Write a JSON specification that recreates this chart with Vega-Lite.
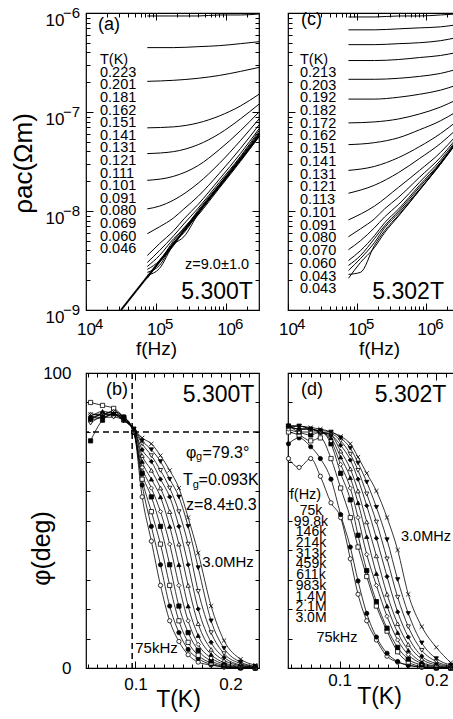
{
  "$schema": "https://vega.github.io/schema/vega-lite/v6.json",
  "background": "white",
  "padding": {"left": 9, "top": 5, "right": 0, "bottom": 0},
  "config": {
    "font": "Liberation Sans",
    "view": {"stroke": "black", "strokeWidth": 1.2},
    "axis": {"domain": false, "grid": false, "labelColor": "black", "labelFont": "Liberation Sans", "labelFontSize": 17, "tickColor": "black", "tickSize": -4, "tickWidth": 1, "titleColor": "black", "titleFont": "Liberation Sans", "titleFontWeight": "normal", "labelFlush": false, "labelOverlap": false},
    "text": {"color": "black", "font": "Liberation Sans"}
  },
  "datasets": {
    "rhoA": [
      {"c":1,"T":0.223,"f":75000,"rho":9.33e-7},{"c":1,"T":0.223,"f":178000,"rho":9.33e-7},{"c":1,"T":0.223,"f":400000,"rho":9.33e-7},{"c":1,"T":0.223,"f":800000,"rho":9.55e-7},{"c":1,"T":0.223,"f":1600000,"rho":9.55e-7},{"c":1,"T":0.223,"f":2950000,"rho":9.77e-7},
      {"c":2,"T":0.201,"f":75000,"rho":4.47e-7},{"c":2,"T":0.201,"f":178000,"rho":4.47e-7},{"c":2,"T":0.201,"f":400000,"rho":4.57e-7},{"c":2,"T":0.201,"f":800000,"rho":4.68e-7},{"c":2,"T":0.201,"f":1600000,"rho":4.90e-7},{"c":2,"T":0.201,"f":2950000,"rho":5.13e-7},
      {"c":3,"T":0.181,"f":75000,"rho":2.04e-7},{"c":3,"T":0.181,"f":178000,"rho":2.09e-7},{"c":3,"T":0.181,"f":400000,"rho":2.19e-7},{"c":3,"T":0.181,"f":800000,"rho":2.34e-7},{"c":3,"T":0.181,"f":1600000,"rho":2.57e-7},{"c":3,"T":0.181,"f":2950000,"rho":2.82e-7},
      {"c":4,"T":0.162,"f":75000,"rho":6.92e-8},{"c":4,"T":0.162,"f":178000,"rho":7.08e-8},{"c":4,"T":0.162,"f":400000,"rho":7.76e-8},{"c":4,"T":0.162,"f":800000,"rho":9.12e-8},{"c":4,"T":0.162,"f":1600000,"rho":1.15e-7},{"c":4,"T":0.162,"f":2950000,"rho":1.51e-7},
      {"c":5,"T":0.151,"f":75000,"rho":3.80e-8},{"c":5,"T":0.151,"f":178000,"rho":3.98e-8},{"c":5,"T":0.151,"f":400000,"rho":4.68e-8},{"c":5,"T":0.151,"f":800000,"rho":6.03e-8},{"c":5,"T":0.151,"f":1600000,"rho":8.51e-8},{"c":5,"T":0.151,"f":2950000,"rho":1.20e-7},
      {"c":6,"T":0.141,"f":75000,"rho":2.04e-8},{"c":6,"T":0.141,"f":178000,"rho":2.24e-8},{"c":6,"T":0.141,"f":400000,"rho":2.88e-8},{"c":6,"T":0.141,"f":800000,"rho":4.17e-8},{"c":6,"T":0.141,"f":1600000,"rho":6.46e-8},{"c":6,"T":0.141,"f":2950000,"rho":1.00e-7},
      {"c":7,"T":0.131,"f":75000,"rho":1.05e-8},{"c":7,"T":0.131,"f":112000,"rho":1.12e-8},{"c":7,"T":0.131,"f":178000,"rho":1.29e-8},{"c":7,"T":0.131,"f":400000,"rho":1.91e-8},{"c":7,"T":0.131,"f":800000,"rho":3.02e-8},{"c":7,"T":0.131,"f":1600000,"rho":5.13e-8},{"c":7,"T":0.131,"f":2950000,"rho":8.51e-8},
      {"c":8,"T":0.121,"f":75000,"rho":5.89e-9},{"c":8,"T":0.121,"f":112000,"rho":6.92e-9},{"c":8,"T":0.121,"f":178000,"rho":8.51e-9},{"c":8,"T":0.121,"f":250000,"rho":1.05e-8},{"c":8,"T":0.121,"f":400000,"rho":1.41e-8},{"c":8,"T":0.121,"f":800000,"rho":2.40e-8},{"c":8,"T":0.121,"f":1600000,"rho":4.27e-8},{"c":8,"T":0.121,"f":2950000,"rho":7.41e-8},
      {"c":9,"T":0.111,"f":75000,"rho":3.55e-9},{"c":9,"T":0.111,"f":112000,"rho":4.68e-9},{"c":9,"T":0.111,"f":178000,"rho":6.31e-9},{"c":9,"T":0.111,"f":250000,"rho":8.32e-9},{"c":9,"T":0.111,"f":400000,"rho":1.17e-8},{"c":9,"T":0.111,"f":800000,"rho":2.09e-8},{"c":9,"T":0.111,"f":1600000,"rho":3.80e-8},{"c":9,"T":0.111,"f":2950000,"rho":6.76e-8},
      {"c":10,"T":0.101,"f":75000,"rho":3.02e-9},{"c":10,"T":0.101,"f":112000,"rho":3.98e-9},{"c":10,"T":0.101,"f":178000,"rho":5.62e-9},{"c":10,"T":0.101,"f":250000,"rho":7.41e-9},{"c":10,"T":0.101,"f":400000,"rho":1.07e-8},{"c":10,"T":0.101,"f":800000,"rho":1.95e-8},{"c":10,"T":0.101,"f":1600000,"rho":3.55e-8},{"c":10,"T":0.101,"f":2950000,"rho":6.46e-8},
      {"c":11,"T":0.091,"f":75000,"rho":2.75e-9},{"c":11,"T":0.091,"f":112000,"rho":3.55e-9},{"c":11,"T":0.091,"f":178000,"rho":5.25e-9},{"c":11,"T":0.091,"f":250000,"rho":6.61e-9},{"c":11,"T":0.091,"f":400000,"rho":1.02e-8},{"c":11,"T":0.091,"f":800000,"rho":1.86e-8},{"c":11,"T":0.091,"f":1600000,"rho":3.47e-8},{"c":11,"T":0.091,"f":2950000,"rho":6.17e-8},
      {"c":12,"T":0.080,"f":75000,"rho":2.57e-9},{"c":12,"T":0.080,"f":112000,"rho":3.16e-9},{"c":12,"T":0.080,"f":178000,"rho":5.01e-9},{"c":12,"T":0.080,"f":250000,"rho":6.76e-9},{"c":12,"T":0.080,"f":400000,"rho":9.77e-9},{"c":12,"T":0.080,"f":800000,"rho":1.82e-8},{"c":12,"T":0.080,"f":1600000,"rho":3.31e-8},{"c":12,"T":0.080,"f":2950000,"rho":6.03e-8},
      {"c":13,"T":0.069,"f":75000,"rho":2.40e-9},{"c":13,"T":0.069,"f":112000,"rho":2.82e-9},{"c":13,"T":0.069,"f":178000,"rho":4.79e-9},{"c":13,"T":0.069,"f":250000,"rho":6.03e-9},{"c":13,"T":0.069,"f":400000,"rho":9.55e-9},{"c":13,"T":0.069,"f":800000,"rho":1.78e-8},{"c":13,"T":0.069,"f":1600000,"rho":3.31e-8},{"c":13,"T":0.069,"f":2950000,"rho":5.89e-8},
      {"c":14,"T":0.060,"f":75000,"rho":2.24e-9},{"c":14,"T":0.060,"f":112000,"rho":2.63e-9},{"c":14,"T":0.060,"f":178000,"rho":4.57e-9},{"c":14,"T":0.060,"f":250000,"rho":5.50e-9},{"c":14,"T":0.060,"f":400000,"rho":9.33e-9},{"c":14,"T":0.060,"f":800000,"rho":1.74e-8},{"c":14,"T":0.060,"f":1600000,"rho":3.24e-8},{"c":14,"T":0.060,"f":2950000,"rho":5.75e-8},
      {"c":15,"T":0.046,"f":75000,"rho":2.09e-9},{"c":15,"T":0.046,"f":112000,"rho":3.02e-9},{"c":15,"T":0.046,"f":178000,"rho":4.47e-9},{"c":15,"T":0.046,"f":250000,"rho":6.31e-9},{"c":15,"T":0.046,"f":400000,"rho":9.12e-9},{"c":15,"T":0.046,"f":800000,"rho":1.70e-8},{"c":15,"T":0.046,"f":1600000,"rho":3.16e-8},{"c":15,"T":0.046,"f":2950000,"rho":5.62e-8}
    ],
    "fitA": [{"f":31600,"rho":1e-9},{"f":2950000,"rho":5.75e-8}],
    "rhoC": [
      {"c":1,"T":0.213,"f":75000,"rho":9.12e-7},{"c":1,"T":0.213,"f":178000,"rho":9.12e-7},{"c":1,"T":0.213,"f":400000,"rho":9.33e-7},{"c":1,"T":0.213,"f":800000,"rho":9.33e-7},{"c":1,"T":0.213,"f":1600000,"rho":9.55e-7},{"c":1,"T":0.213,"f":2700000,"rho":9.77e-7},
      {"c":2,"T":0.203,"f":75000,"rho":6.76e-7},{"c":2,"T":0.203,"f":178000,"rho":6.76e-7},{"c":2,"T":0.203,"f":400000,"rho":6.92e-7},{"c":2,"T":0.203,"f":800000,"rho":7.08e-7},{"c":2,"T":0.203,"f":1600000,"rho":7.24e-7},{"c":2,"T":0.203,"f":2700000,"rho":7.59e-7},
      {"c":3,"T":0.192,"f":75000,"rho":4.79e-7},{"c":3,"T":0.192,"f":178000,"rho":4.79e-7},{"c":3,"T":0.192,"f":400000,"rho":4.90e-7},{"c":3,"T":0.192,"f":800000,"rho":5.01e-7},{"c":3,"T":0.192,"f":1600000,"rho":5.25e-7},{"c":3,"T":0.192,"f":2700000,"rho":5.62e-7},
      {"c":4,"T":0.182,"f":75000,"rho":3.31e-7},{"c":4,"T":0.182,"f":178000,"rho":3.31e-7},{"c":4,"T":0.182,"f":400000,"rho":3.39e-7},{"c":4,"T":0.182,"f":800000,"rho":3.55e-7},{"c":4,"T":0.182,"f":1600000,"rho":3.72e-7},{"c":4,"T":0.182,"f":2700000,"rho":3.98e-7},
      {"c":5,"T":0.172,"f":75000,"rho":2.14e-7},{"c":5,"T":0.172,"f":178000,"rho":2.14e-7},{"c":5,"T":0.172,"f":400000,"rho":2.19e-7},{"c":5,"T":0.172,"f":800000,"rho":2.29e-7},{"c":5,"T":0.172,"f":1600000,"rho":2.45e-7},{"c":5,"T":0.172,"f":2700000,"rho":2.69e-7},
      {"c":6,"T":0.162,"f":75000,"rho":1.35e-7},{"c":6,"T":0.162,"f":178000,"rho":1.35e-7},{"c":6,"T":0.162,"f":400000,"rho":1.41e-7},{"c":6,"T":0.162,"f":800000,"rho":1.51e-7},{"c":6,"T":0.162,"f":1600000,"rho":1.66e-7},{"c":6,"T":0.162,"f":2700000,"rho":1.86e-7},
      {"c":7,"T":0.151,"f":75000,"rho":7.76e-8},{"c":7,"T":0.151,"f":178000,"rho":7.94e-8},{"c":7,"T":0.151,"f":400000,"rho":8.51e-8},{"c":7,"T":0.151,"f":800000,"rho":9.55e-8},{"c":7,"T":0.151,"f":1600000,"rho":1.12e-7},{"c":7,"T":0.151,"f":2700000,"rho":1.32e-7},
      {"c":8,"T":0.141,"f":75000,"rho":4.68e-8},{"c":8,"T":0.141,"f":178000,"rho":4.90e-8},{"c":8,"T":0.141,"f":400000,"rho":5.50e-8},{"c":8,"T":0.141,"f":800000,"rho":6.61e-8},{"c":8,"T":0.141,"f":1600000,"rho":8.13e-8},{"c":8,"T":0.141,"f":2700000,"rho":1.00e-7},
      {"c":9,"T":0.131,"f":75000,"rho":2.57e-8},{"c":9,"T":0.131,"f":178000,"rho":2.82e-8},{"c":9,"T":0.131,"f":400000,"rho":3.47e-8},{"c":9,"T":0.131,"f":800000,"rho":4.47e-8},{"c":9,"T":0.131,"f":1600000,"rho":6.03e-8},{"c":9,"T":0.131,"f":2700000,"rho":7.94e-8},
      {"c":10,"T":0.121,"f":75000,"rho":1.51e-8},{"c":10,"T":0.121,"f":178000,"rho":1.82e-8},{"c":10,"T":0.121,"f":400000,"rho":2.45e-8},{"c":10,"T":0.121,"f":800000,"rho":3.39e-8},{"c":10,"T":0.121,"f":1600000,"rho":4.79e-8},{"c":10,"T":0.121,"f":2700000,"rho":6.61e-8},
      {"c":11,"T":0.113,"f":75000,"rho":8.13e-9},{"c":11,"T":0.113,"f":178000,"rho":1.12e-8},{"c":11,"T":0.113,"f":400000,"rho":1.74e-8},{"c":11,"T":0.113,"f":800000,"rho":2.57e-8},{"c":11,"T":0.113,"f":1600000,"rho":3.89e-8},{"c":11,"T":0.113,"f":2700000,"rho":5.75e-8},
      {"c":12,"T":0.101,"f":75000,"rho":5.50e-9},{"c":12,"T":0.101,"f":112000,"rho":6.61e-9},{"c":12,"T":0.101,"f":178000,"rho":8.32e-9},{"c":12,"T":0.101,"f":250000,"rho":1.05e-8},{"c":12,"T":0.101,"f":400000,"rho":1.38e-8},{"c":12,"T":0.101,"f":800000,"rho":2.19e-8},{"c":12,"T":0.101,"f":1600000,"rho":3.47e-8},{"c":12,"T":0.101,"f":2700000,"rho":5.37e-8},
      {"c":13,"T":0.091,"f":75000,"rho":4.07e-9},{"c":13,"T":0.091,"f":112000,"rho":5.01e-9},{"c":13,"T":0.091,"f":178000,"rho":6.76e-9},{"c":13,"T":0.091,"f":250000,"rho":8.71e-9},{"c":13,"T":0.091,"f":400000,"rho":1.17e-8},{"c":13,"T":0.091,"f":800000,"rho":1.95e-8},{"c":13,"T":0.091,"f":1600000,"rho":3.24e-8},{"c":13,"T":0.091,"f":2700000,"rho":5.13e-8},
      {"c":14,"T":0.080,"f":75000,"rho":3.16e-9},{"c":14,"T":0.080,"f":112000,"rho":3.98e-9},{"c":14,"T":0.080,"f":178000,"rho":5.62e-9},{"c":14,"T":0.080,"f":250000,"rho":7.59e-9},{"c":14,"T":0.080,"f":400000,"rho":1.05e-8},{"c":14,"T":0.080,"f":800000,"rho":1.82e-8},{"c":14,"T":0.080,"f":1600000,"rho":3.09e-8},{"c":14,"T":0.080,"f":2700000,"rho":5.01e-8},
      {"c":15,"T":0.070,"f":75000,"rho":2.82e-9},{"c":15,"T":0.070,"f":112000,"rho":3.55e-9},{"c":15,"T":0.070,"f":178000,"rho":5.25e-9},{"c":15,"T":0.070,"f":250000,"rho":7.08e-9},{"c":15,"T":0.070,"f":400000,"rho":1.00e-8},{"c":15,"T":0.070,"f":800000,"rho":1.74e-8},{"c":15,"T":0.070,"f":1600000,"rho":3.02e-8},{"c":15,"T":0.070,"f":2700000,"rho":4.90e-8},
      {"c":16,"T":0.060,"f":75000,"rho":2.51e-9},{"c":16,"T":0.060,"f":112000,"rho":3.31e-9},{"c":16,"T":0.060,"f":178000,"rho":4.79e-9},{"c":16,"T":0.060,"f":250000,"rho":6.76e-9},{"c":16,"T":0.060,"f":400000,"rho":9.55e-9},{"c":16,"T":0.060,"f":800000,"rho":1.66e-8},{"c":16,"T":0.060,"f":1600000,"rho":2.95e-8},{"c":16,"T":0.060,"f":2700000,"rho":4.90e-8},
      {"c":17,"T":0.043,"f":75000,"rho":2.29e-9},{"c":17,"T":0.043,"f":112000,"rho":2.40e-9},{"c":17,"T":0.043,"f":178000,"rho":4.47e-9},{"c":17,"T":0.043,"f":250000,"rho":6.31e-9},{"c":17,"T":0.043,"f":400000,"rho":9.12e-9},{"c":17,"T":0.043,"f":800000,"rho":1.62e-8},{"c":17,"T":0.043,"f":1600000,"rho":2.95e-8},{"c":17,"T":0.043,"f":2700000,"rho":4.79e-8},
      {"c":18,"T":0.043,"f":75000,"rho":2.09e-9},{"c":18,"T":0.043,"f":112000,"rho":3.02e-9},{"c":18,"T":0.043,"f":178000,"rho":4.27e-9},{"c":18,"T":0.043,"f":250000,"rho":6.03e-9},{"c":18,"T":0.043,"f":400000,"rho":8.91e-9},{"c":18,"T":0.043,"f":800000,"rho":1.62e-8},{"c":18,"T":0.043,"f":1600000,"rho":3.02e-8},{"c":18,"T":0.043,"f":2700000,"rho":4.79e-8}
    ],
    "phiB": [
      {"fr":"75k","T":0.0527,"phi":85},{"fr":"75k","T":0.0653,"phi":86},{"fr":"75k","T":0.077,"phi":87},{"fr":"75k","T":0.0876,"phi":85},{"fr":"75k","T":0.0983,"phi":80},{"fr":"75k","T":0.107,"phi":58},{"fr":"75k","T":0.1167,"phi":43},{"fr":"75k","T":0.1263,"phi":28},{"fr":"75k","T":0.136,"phi":16},{"fr":"75k","T":0.1457,"phi":9},{"fr":"75k","T":0.1554,"phi":4.5},{"fr":"75k","T":0.166,"phi":2},{"fr":"75k","T":0.1796,"phi":1},{"fr":"75k","T":0.1932,"phi":0.3},{"fr":"75k","T":0.2106,"phi":0},{"fr":"75k","T":0.2261,"phi":0},
      {"fr":"99.8k","T":0.0527,"phi":84},{"fr":"99.8k","T":0.0653,"phi":86},{"fr":"99.8k","T":0.077,"phi":86},{"fr":"99.8k","T":0.0876,"phi":85},{"fr":"99.8k","T":0.0983,"phi":80},{"fr":"99.8k","T":0.107,"phi":62},{"fr":"99.8k","T":0.1167,"phi":48},{"fr":"99.8k","T":0.1263,"phi":35},{"fr":"99.8k","T":0.136,"phi":21},{"fr":"99.8k","T":0.1457,"phi":12},{"fr":"99.8k","T":0.1554,"phi":6.3},{"fr":"99.8k","T":0.166,"phi":3.2},{"fr":"99.8k","T":0.1796,"phi":1.2},{"fr":"99.8k","T":0.1932,"phi":0.4},{"fr":"99.8k","T":0.2106,"phi":0},{"fr":"99.8k","T":0.2261,"phi":0},
      {"fr":"146k","T":0.0527,"phi":90},{"fr":"146k","T":0.0653,"phi":89},{"fr":"146k","T":0.077,"phi":88},{"fr":"146k","T":0.0876,"phi":85},{"fr":"146k","T":0.0983,"phi":80},{"fr":"146k","T":0.107,"phi":64},{"fr":"146k","T":0.1167,"phi":53},{"fr":"146k","T":0.1263,"phi":42},{"fr":"146k","T":0.136,"phi":28},{"fr":"146k","T":0.1457,"phi":16},{"fr":"146k","T":0.1554,"phi":8.7},{"fr":"146k","T":0.166,"phi":4.3},{"fr":"146k","T":0.1796,"phi":1.7},{"fr":"146k","T":0.1932,"phi":0.6},{"fr":"146k","T":0.2106,"phi":0.1},{"fr":"146k","T":0.2261,"phi":0},
      {"fr":"214k","T":0.0527,"phi":77},{"fr":"214k","T":0.0653,"phi":84},{"fr":"214k","T":0.077,"phi":86},{"fr":"214k","T":0.0876,"phi":85},{"fr":"214k","T":0.0983,"phi":80},{"fr":"214k","T":0.107,"phi":66},{"fr":"214k","T":0.1167,"phi":58},{"fr":"214k","T":0.1263,"phi":48},{"fr":"214k","T":0.136,"phi":35},{"fr":"214k","T":0.1457,"phi":21},{"fr":"214k","T":0.1554,"phi":12},{"fr":"214k","T":0.166,"phi":6},{"fr":"214k","T":0.1796,"phi":2.4},{"fr":"214k","T":0.1932,"phi":0.9},{"fr":"214k","T":0.2106,"phi":0.2},{"fr":"214k","T":0.2261,"phi":0},
      {"fr":"313k","T":0.0527,"phi":86},{"fr":"313k","T":0.0653,"phi":86},{"fr":"313k","T":0.077,"phi":87},{"fr":"313k","T":0.0876,"phi":84},{"fr":"313k","T":0.0983,"phi":80},{"fr":"313k","T":0.107,"phi":68},{"fr":"313k","T":0.1167,"phi":61},{"fr":"313k","T":0.1263,"phi":53},{"fr":"313k","T":0.136,"phi":42},{"fr":"313k","T":0.1457,"phi":28},{"fr":"313k","T":0.1554,"phi":16},{"fr":"313k","T":0.166,"phi":8},{"fr":"313k","T":0.1796,"phi":3.4},{"fr":"313k","T":0.1932,"phi":1.3},{"fr":"313k","T":0.2106,"phi":0.3},{"fr":"313k","T":0.2261,"phi":0},
      {"fr":"459k","T":0.0527,"phi":85},{"fr":"459k","T":0.0653,"phi":87},{"fr":"459k","T":0.077,"phi":86},{"fr":"459k","T":0.0876,"phi":84},{"fr":"459k","T":0.0983,"phi":81},{"fr":"459k","T":0.107,"phi":70},{"fr":"459k","T":0.1167,"phi":64},{"fr":"459k","T":0.1263,"phi":58},{"fr":"459k","T":0.136,"phi":48},{"fr":"459k","T":0.1457,"phi":35},{"fr":"459k","T":0.1554,"phi":21},{"fr":"459k","T":0.166,"phi":11},{"fr":"459k","T":0.1796,"phi":4.6},{"fr":"459k","T":0.1932,"phi":1.8},{"fr":"459k","T":0.2106,"phi":0.5},{"fr":"459k","T":0.2261,"phi":0.1},
      {"fr":"611k","T":0.0527,"phi":84},{"fr":"611k","T":0.0653,"phi":86},{"fr":"611k","T":0.077,"phi":86},{"fr":"611k","T":0.0876,"phi":84},{"fr":"611k","T":0.0983,"phi":81},{"fr":"611k","T":0.107,"phi":72},{"fr":"611k","T":0.1167,"phi":67},{"fr":"611k","T":0.1263,"phi":61},{"fr":"611k","T":0.136,"phi":53},{"fr":"611k","T":0.1457,"phi":42},{"fr":"611k","T":0.1554,"phi":28},{"fr":"611k","T":0.166,"phi":15},{"fr":"611k","T":0.1796,"phi":6.3},{"fr":"611k","T":0.1932,"phi":2.6},{"fr":"611k","T":0.2106,"phi":0.8},{"fr":"611k","T":0.2261,"phi":0.2},
      {"fr":"983k","T":0.0527,"phi":85},{"fr":"983k","T":0.0653,"phi":85},{"fr":"983k","T":0.077,"phi":86},{"fr":"983k","T":0.0876,"phi":84},{"fr":"983k","T":0.0983,"phi":81},{"fr":"983k","T":0.107,"phi":74},{"fr":"983k","T":0.1167,"phi":70},{"fr":"983k","T":0.1263,"phi":64},{"fr":"983k","T":0.136,"phi":58},{"fr":"983k","T":0.1457,"phi":48},{"fr":"983k","T":0.1554,"phi":35},{"fr":"983k","T":0.166,"phi":20},{"fr":"983k","T":0.1796,"phi":8.7},{"fr":"983k","T":0.1932,"phi":3.6},{"fr":"983k","T":0.2106,"phi":1},{"fr":"983k","T":0.2261,"phi":0.3},
      {"fr":"1.4M","T":0.0527,"phi":83},{"fr":"1.4M","T":0.0653,"phi":85},{"fr":"1.4M","T":0.077,"phi":85},{"fr":"1.4M","T":0.0876,"phi":84},{"fr":"1.4M","T":0.0983,"phi":81},{"fr":"1.4M","T":0.107,"phi":76},{"fr":"1.4M","T":0.1167,"phi":72},{"fr":"1.4M","T":0.1263,"phi":67},{"fr":"1.4M","T":0.136,"phi":61},{"fr":"1.4M","T":0.1457,"phi":53},{"fr":"1.4M","T":0.1554,"phi":42},{"fr":"1.4M","T":0.166,"phi":26},{"fr":"1.4M","T":0.1796,"phi":12},{"fr":"1.4M","T":0.1932,"phi":4.9},{"fr":"1.4M","T":0.2106,"phi":1.5},{"fr":"1.4M","T":0.2261,"phi":0.4},
      {"fr":"2.1M","T":0.0527,"phi":84},{"fr":"2.1M","T":0.0653,"phi":85},{"fr":"2.1M","T":0.077,"phi":86},{"fr":"2.1M","T":0.0876,"phi":84},{"fr":"2.1M","T":0.0983,"phi":81},{"fr":"2.1M","T":0.107,"phi":77},{"fr":"2.1M","T":0.1167,"phi":74},{"fr":"2.1M","T":0.1263,"phi":70},{"fr":"2.1M","T":0.136,"phi":64},{"fr":"2.1M","T":0.1457,"phi":58},{"fr":"2.1M","T":0.1554,"phi":48},{"fr":"2.1M","T":0.166,"phi":34},{"fr":"2.1M","T":0.1796,"phi":16},{"fr":"2.1M","T":0.1932,"phi":6.7},{"fr":"2.1M","T":0.2106,"phi":2},{"fr":"2.1M","T":0.2261,"phi":0.6},
      {"fr":"3.0M","T":0.0527,"phi":86},{"fr":"3.0M","T":0.0653,"phi":86},{"fr":"3.0M","T":0.077,"phi":87},{"fr":"3.0M","T":0.0876,"phi":85},{"fr":"3.0M","T":0.0983,"phi":81},{"fr":"3.0M","T":0.107,"phi":78},{"fr":"3.0M","T":0.1167,"phi":76},{"fr":"3.0M","T":0.1263,"phi":72},{"fr":"3.0M","T":0.136,"phi":67},{"fr":"3.0M","T":0.1457,"phi":61},{"fr":"3.0M","T":0.1554,"phi":51},{"fr":"3.0M","T":0.166,"phi":39},{"fr":"3.0M","T":0.1796,"phi":21},{"fr":"3.0M","T":0.1932,"phi":9.3},{"fr":"3.0M","T":0.2106,"phi":3},{"fr":"3.0M","T":0.2261,"phi":1}
    ],
    "phiD": [
      {"fr":"75k","T":0.047,"phi":71},{"fr":"75k","T":0.058,"phi":68},{"fr":"75k","T":0.07,"phi":71},{"fr":"75k","T":0.08,"phi":65},{"fr":"75k","T":0.091,"phi":56},{"fr":"75k","T":0.101,"phi":51},{"fr":"75k","T":0.111,"phi":37},{"fr":"75k","T":0.119,"phi":25},{"fr":"75k","T":0.128,"phi":16},{"fr":"75k","T":0.138,"phi":9.5},{"fr":"75k","T":0.149,"phi":4},{"fr":"75k","T":0.16,"phi":2},{"fr":"75k","T":0.171,"phi":1},{"fr":"75k","T":0.185,"phi":0.3},{"fr":"75k","T":0.2,"phi":0},{"fr":"75k","T":0.215,"phi":0},
      {"fr":"99.8k","T":0.047,"phi":76},{"fr":"99.8k","T":0.058,"phi":78},{"fr":"99.8k","T":0.07,"phi":75},{"fr":"99.8k","T":0.08,"phi":71},{"fr":"99.8k","T":0.091,"phi":64},{"fr":"99.8k","T":0.101,"phi":52},{"fr":"99.8k","T":0.111,"phi":41},{"fr":"99.8k","T":0.119,"phi":29.5},{"fr":"99.8k","T":0.128,"phi":18.5},{"fr":"99.8k","T":0.138,"phi":10.5},{"fr":"99.8k","T":0.149,"phi":5},{"fr":"99.8k","T":0.16,"phi":2.2},{"fr":"99.8k","T":0.171,"phi":0.9},{"fr":"99.8k","T":0.185,"phi":0.3},{"fr":"99.8k","T":0.2,"phi":0},{"fr":"99.8k","T":0.215,"phi":0},
      {"fr":"146k","T":0.047,"phi":80},{"fr":"146k","T":0.058,"phi":79},{"fr":"146k","T":0.07,"phi":77},{"fr":"146k","T":0.08,"phi":78},{"fr":"146k","T":0.091,"phi":71},{"fr":"146k","T":0.101,"phi":61},{"fr":"146k","T":0.111,"phi":51},{"fr":"146k","T":0.119,"phi":41},{"fr":"146k","T":0.128,"phi":31},{"fr":"146k","T":0.138,"phi":21},{"fr":"146k","T":0.149,"phi":12.5},{"fr":"146k","T":0.16,"phi":5.5},{"fr":"146k","T":0.171,"phi":2},{"fr":"146k","T":0.185,"phi":0.5},{"fr":"146k","T":0.2,"phi":0},{"fr":"146k","T":0.215,"phi":0},
      {"fr":"214k","T":0.047,"phi":82},{"fr":"214k","T":0.058,"phi":80},{"fr":"214k","T":0.07,"phi":79},{"fr":"214k","T":0.08,"phi":80},{"fr":"214k","T":0.091,"phi":76},{"fr":"214k","T":0.101,"phi":66},{"fr":"214k","T":0.111,"phi":57},{"fr":"214k","T":0.119,"phi":45},{"fr":"214k","T":0.128,"phi":33},{"fr":"214k","T":0.138,"phi":22.5},{"fr":"214k","T":0.149,"phi":13.5},{"fr":"214k","T":0.16,"phi":7},{"fr":"214k","T":0.171,"phi":3},{"fr":"214k","T":0.185,"phi":1},{"fr":"214k","T":0.2,"phi":0.2},{"fr":"214k","T":0.215,"phi":0},
      {"fr":"313k","T":0.047,"phi":81},{"fr":"313k","T":0.058,"phi":80},{"fr":"313k","T":0.07,"phi":80},{"fr":"313k","T":0.08,"phi":80},{"fr":"313k","T":0.091,"phi":77},{"fr":"313k","T":0.101,"phi":69},{"fr":"313k","T":0.111,"phi":61},{"fr":"313k","T":0.119,"phi":51},{"fr":"313k","T":0.128,"phi":38.5},{"fr":"313k","T":0.138,"phi":28},{"fr":"313k","T":0.149,"phi":17.5},{"fr":"313k","T":0.16,"phi":9.5},{"fr":"313k","T":0.171,"phi":4.5},{"fr":"313k","T":0.185,"phi":1.5},{"fr":"313k","T":0.2,"phi":0.4},{"fr":"313k","T":0.215,"phi":0},
      {"fr":"459k","T":0.047,"phi":82},{"fr":"459k","T":0.058,"phi":81},{"fr":"459k","T":0.07,"phi":81},{"fr":"459k","T":0.08,"phi":80},{"fr":"459k","T":0.091,"phi":78},{"fr":"459k","T":0.101,"phi":71.5},{"fr":"459k","T":0.111,"phi":64.5},{"fr":"459k","T":0.119,"phi":56},{"fr":"459k","T":0.128,"phi":44.5},{"fr":"459k","T":0.138,"phi":32},{"fr":"459k","T":0.149,"phi":21},{"fr":"459k","T":0.16,"phi":12},{"fr":"459k","T":0.171,"phi":6},{"fr":"459k","T":0.185,"phi":2},{"fr":"459k","T":0.2,"phi":0.6},{"fr":"459k","T":0.215,"phi":0.1},
      {"fr":"611k","T":0.047,"phi":82},{"fr":"611k","T":0.058,"phi":81},{"fr":"611k","T":0.07,"phi":81},{"fr":"611k","T":0.08,"phi":80},{"fr":"611k","T":0.091,"phi":79},{"fr":"611k","T":0.101,"phi":73.5},{"fr":"611k","T":0.111,"phi":67.5},{"fr":"611k","T":0.119,"phi":60},{"fr":"611k","T":0.128,"phi":49.5},{"fr":"611k","T":0.138,"phi":38},{"fr":"611k","T":0.149,"phi":25},{"fr":"611k","T":0.16,"phi":15},{"fr":"611k","T":0.171,"phi":8},{"fr":"611k","T":0.185,"phi":3},{"fr":"611k","T":0.2,"phi":1},{"fr":"611k","T":0.215,"phi":0.2},
      {"fr":"983k","T":0.047,"phi":82},{"fr":"983k","T":0.058,"phi":81},{"fr":"983k","T":0.07,"phi":81},{"fr":"983k","T":0.08,"phi":80},{"fr":"983k","T":0.091,"phi":79},{"fr":"983k","T":0.101,"phi":75.5},{"fr":"983k","T":0.111,"phi":70.5},{"fr":"983k","T":0.119,"phi":64},{"fr":"983k","T":0.128,"phi":55},{"fr":"983k","T":0.138,"phi":44},{"fr":"983k","T":0.149,"phi":31},{"fr":"983k","T":0.16,"phi":19},{"fr":"983k","T":0.171,"phi":10.5},{"fr":"983k","T":0.185,"phi":4},{"fr":"983k","T":0.2,"phi":1.5},{"fr":"983k","T":0.215,"phi":0.4},
      {"fr":"1.4M","T":0.047,"phi":82},{"fr":"1.4M","T":0.058,"phi":82},{"fr":"1.4M","T":0.07,"phi":81},{"fr":"1.4M","T":0.08,"phi":80},{"fr":"1.4M","T":0.091,"phi":79.5},{"fr":"1.4M","T":0.101,"phi":77},{"fr":"1.4M","T":0.111,"phi":72.5},{"fr":"1.4M","T":0.119,"phi":67},{"fr":"1.4M","T":0.128,"phi":59},{"fr":"1.4M","T":0.138,"phi":49.5},{"fr":"1.4M","T":0.149,"phi":37},{"fr":"1.4M","T":0.16,"phi":24},{"fr":"1.4M","T":0.171,"phi":14},{"fr":"1.4M","T":0.185,"phi":6},{"fr":"1.4M","T":0.2,"phi":2.2},{"fr":"1.4M","T":0.215,"phi":0.6},
      {"fr":"2.1M","T":0.047,"phi":82},{"fr":"2.1M","T":0.058,"phi":82},{"fr":"2.1M","T":0.07,"phi":81},{"fr":"2.1M","T":0.08,"phi":80.5},{"fr":"2.1M","T":0.091,"phi":80},{"fr":"2.1M","T":0.101,"phi":78},{"fr":"2.1M","T":0.111,"phi":74.5},{"fr":"2.1M","T":0.119,"phi":69.5},{"fr":"2.1M","T":0.128,"phi":63},{"fr":"2.1M","T":0.138,"phi":54.5},{"fr":"2.1M","T":0.149,"phi":43.5},{"fr":"2.1M","T":0.16,"phi":30},{"fr":"2.1M","T":0.171,"phi":18.5},{"fr":"2.1M","T":0.185,"phi":8.5},{"fr":"2.1M","T":0.2,"phi":3.2},{"fr":"2.1M","T":0.215,"phi":1},
      {"fr":"3.0M","T":0.047,"phi":82},{"fr":"3.0M","T":0.058,"phi":82},{"fr":"3.0M","T":0.07,"phi":81.5},{"fr":"3.0M","T":0.08,"phi":81},{"fr":"3.0M","T":0.091,"phi":80},{"fr":"3.0M","T":0.101,"phi":78.5},{"fr":"3.0M","T":0.111,"phi":76},{"fr":"3.0M","T":0.119,"phi":71.5},{"fr":"3.0M","T":0.128,"phi":66},{"fr":"3.0M","T":0.138,"phi":60},{"fr":"3.0M","T":0.149,"phi":51},{"fr":"3.0M","T":0.16,"phi":40},{"fr":"3.0M","T":0.171,"phi":25},{"fr":"3.0M","T":0.185,"phi":14},{"fr":"3.0M","T":0.2,"phi":7},{"fr":"3.0M","T":0.215,"phi":1.8}
    ]
  },
  "columns": 2,
  "spacing": {"row": 63, "column": 29},
  "bounds": "flush",
  "concat": [
    {
      "width": 173, "height": 297,
      "resolve": {"axis": {"x": "independent", "y": "independent"}},
      "layer": [
        {
          "data": {"name": "rhoA"},
          "mark": {"type": "line", "interpolate": "monotone", "strokeWidth": 1, "color": "black"},
          "encoding": {
            "x": {"field": "f", "type": "quantitative", "scale": {"type": "log", "domain": [10000, 2950000], "nice": false},
              "axis": {"values": [10000,20000,30000,40000,50000,60000,70000,80000,90000,100000,200000,300000,400000,500000,600000,700000,800000,900000,1000000,2000000],
                "labelExpr": "datum.value == 10000 || datum.value == 100000 || datum.value == 1000000 ? '10' : ''",
                "tickSize": {"condition": {"test": "datum.value == 10000 || datum.value == 100000 || datum.value == 1000000", "value": -7}, "value": -4},
                "labelFontSize": 17, "title": "f(Hz)", "titleFontSize": 19, "titleX": 70, "titleY": 44, "titleBaseline": "alphabetic", "labelPadding": 18}},
            "y": {"field": "rho", "type": "quantitative", "scale": {"type": "log", "domain": [1e-9, 1e-6], "nice": false},
              "axis": {"values": [1e-9,2e-9,3e-9,4e-9,5e-9,6e-9,7e-9,8e-9,9e-9,1e-8,2e-8,3e-8,4e-8,5e-8,6e-8,7e-8,8e-8,9e-8,1e-7,2e-7,3e-7,4e-7,5e-7,6e-7,7e-7,8e-7,9e-7,1e-6],
                "labelExpr": "datum.value == 1e-9 || datum.value == 1e-8 || datum.value == 1e-7 || datum.value == 1e-6 ? '10' : ''",
                "tickSize": {"condition": {"test": "datum.value == 1e-9 || datum.value == 1e-8 || datum.value == 1e-7 || datum.value == 1e-6", "value": -7}, "value": -4},
                "labelFontSize": 17, "labelOffset": 7, "title": "ρac(Ωm)", "titleFontSize": 26, "titleX": -55, "titleY": 150, "titleAngle": 270, "titleBaseline": "alphabetic", "labelPadding": 29}},
            "detail": {"field": "c", "type": "nominal"}
          }
        },
        {
          "data": {"name": "fitA"},
          "mark": {"type": "line", "strokeWidth": 2, "color": "black"},
          "encoding": {"x": {"field": "f", "type": "quantitative", "axis": null}, "y": {"field": "rho", "type": "quantitative", "axis": null}}
        },
        {
          "data": {"values": [{"f": 4690, "rho": 1e-6, "t": "−6"}, {"f": 4690, "rho": 1e-7, "t": "−7"}, {"f": 4690, "rho": 1e-8, "t": "−8"}, {"f": 4690, "rho": 1e-9, "t": "−9"}, {"f": 13450, "rho": 7.22e-10, "t": "4"}, {"f": 134500, "rho": 7.22e-10, "t": "5"}, {"f": 1345000, "rho": 7.22e-10, "t": "6"}]},
          "mark": {"type": "text", "fontSize": 15, "align": "left", "baseline": "middle", "clip": false},
          "encoding": {"x": {"field": "f", "type": "quantitative", "axis": null}, "y": {"field": "rho", "type": "quantitative", "axis": null}, "text": {"field": "t"}}
        },
        {
          "data": {"values": [{"f": 21300, "rho": 7.57e-7, "t": "(a)"}]},
          "mark": {"type": "text", "fontSize": 18, "align": "center", "baseline": "middle"},
          "encoding": {"x": {"field": "f", "type": "quantitative", "axis": null}, "y": {"field": "rho", "type": "quantitative", "axis": null}, "text": {"field": "t"}}
        },
        {
          "data": {"values": [{"f": 15850, "rho": 3.94e-7, "t": "T(K)\n0.223\n0.201\n0.181\n0.162\n0.151\n0.141\n0.131\n0.121\n0.111\n0.101\n0.091\n0.080\n0.069\n0.060\n0.046"}]},
          "mark": {"type": "text", "fontSize": 14.5, "align": "left", "baseline": "top", "lineBreak": "\n", "lineHeight": 12.62},
          "encoding": {"x": {"field": "f", "type": "quantitative", "axis": null}, "y": {"field": "rho", "type": "quantitative", "axis": null}, "text": {"field": "t"}}
        },
        {
          "data": {"values": [{"f": 743000, "rho": 2.85e-9, "t": "z=9.0±1.0"}]},
          "mark": {"type": "text", "fontSize": 14.5, "align": "center", "baseline": "middle"},
          "encoding": {"x": {"field": "f", "type": "quantitative", "axis": null}, "y": {"field": "rho", "type": "quantitative", "axis": null}, "text": {"field": "t"}}
        },
        {
          "data": {"values": [{"f": 743000, "rho": 1.53e-9, "t": "5.300T"}]},
          "mark": {"type": "text", "fontSize": 23, "align": "center", "baseline": "middle"},
          "encoding": {
            "x": {"field": "f", "type": "quantitative", "axis": {"orient": "top", "labels": false, "title": null, "values": [10000,20000,30000,40000,50000,60000,70000,80000,90000,100000,200000,300000,400000,500000,600000,700000,800000,900000,1000000,2000000],
              "tickSize": {"condition": {"test": "datum.value == 10000 || datum.value == 100000 || datum.value == 1000000", "value": -7}, "value": -4}}},
            "y": {"field": "rho", "type": "quantitative", "axis": {"orient": "right", "labels": false, "title": null, "values": [1e-9,2e-9,3e-9,4e-9,5e-9,6e-9,7e-9,8e-9,9e-9,1e-8,2e-8,3e-8,4e-8,5e-8,6e-8,7e-8,8e-8,9e-8,1e-7,2e-7,3e-7,4e-7,5e-7,6e-7,7e-7,8e-7,9e-7,1e-6],
              "tickSize": {"condition": {"test": "datum.value == 1e-9 || datum.value == 1e-8 || datum.value == 1e-7 || datum.value == 1e-6", "value": -7}, "value": -4}}},
            "text": {"field": "t"}
          }
        }
      ]
    },
    {
      "width": 168, "height": 297,
      "resolve": {"axis": {"x": "independent", "y": "independent"}},
      "layer": [
        {
          "data": {"name": "rhoC"},
          "mark": {"type": "line", "interpolate": "monotone", "strokeWidth": 1, "color": "black"},
          "encoding": {
            "x": {"field": "f", "type": "quantitative", "scale": {"type": "log", "domain": [10000, 2700000], "nice": false},
              "axis": {"values": [10000,20000,30000,40000,50000,60000,70000,80000,90000,100000,200000,300000,400000,500000,600000,700000,800000,900000,1000000,2000000],
                "labelExpr": "datum.value == 10000 || datum.value == 100000 || datum.value == 1000000 ? '10' : ''",
                "tickSize": {"condition": {"test": "datum.value == 10000 || datum.value == 100000 || datum.value == 1000000", "value": -7}, "value": -4},
                "labelFontSize": 17, "title": "f(Hz)", "titleFontSize": 19, "titleX": 91, "titleY": 44, "titleBaseline": "alphabetic", "labelPadding": 18}},
            "y": {"field": "rho", "type": "quantitative", "scale": {"type": "log", "domain": [1e-9, 1e-6], "nice": false},
              "axis": {"values": [1e-9,2e-9,3e-9,4e-9,5e-9,6e-9,7e-9,8e-9,9e-9,1e-8,2e-8,3e-8,4e-8,5e-8,6e-8,7e-8,8e-8,9e-8,1e-7,2e-7,3e-7,4e-7,5e-7,6e-7,7e-7,8e-7,9e-7,1e-6],
                "tickSize": {"condition": {"test": "datum.value == 1e-9 || datum.value == 1e-8 || datum.value == 1e-7 || datum.value == 1e-6", "value": -7}, "value": -4},
                "labels": false, "title": null}},
            "detail": {"field": "c", "type": "nominal"}
          }
        },
        {
          "data": {"values": [{"f": 13500, "rho": 7.22e-10, "t": "4"}, {"f": 135000, "rho": 7.22e-10, "t": "5"}, {"f": 1350000, "rho": 7.22e-10, "t": "6"}]},
          "mark": {"type": "text", "fontSize": 15, "align": "left", "baseline": "middle", "clip": false},
          "encoding": {"x": {"field": "f", "type": "quantitative", "axis": null}, "y": {"field": "rho", "type": "quantitative", "axis": null}, "text": {"field": "t"}}
        },
        {
          "data": {"values": [{"f": 21900, "rho": 8.49e-7, "t": "(c)"}]},
          "mark": {"type": "text", "fontSize": 18, "align": "center", "baseline": "middle"},
          "encoding": {"x": {"field": "f", "type": "quantitative", "axis": null}, "y": {"field": "rho", "type": "quantitative", "axis": null}, "text": {"field": "t"}}
        },
        {
          "data": {"values": [{"f": 14900, "rho": 3.94e-7, "t": "T(K)\n0.213\n0.203\n0.192\n0.182\n0.172\n0.162\n0.151\n0.141\n0.131\n0.121\n0.113\n0.101\n0.091\n0.080\n0.070\n0.060\n0.043\n0.043"}]},
          "mark": {"type": "text", "fontSize": 14.5, "align": "left", "baseline": "top", "lineBreak": "\n", "lineHeight": 12.74},
          "encoding": {"x": {"field": "f", "type": "quantitative", "axis": null}, "y": {"field": "rho", "type": "quantitative", "axis": null}, "text": {"field": "t"}}
        },
        {
          "data": {"values": [{"f": 548000, "rho": 1.53e-9, "t": "5.302T"}]},
          "mark": {"type": "text", "fontSize": 23, "align": "center", "baseline": "middle"},
          "encoding": {
            "x": {"field": "f", "type": "quantitative", "axis": {"orient": "top", "labels": false, "title": null, "values": [10000,20000,30000,40000,50000,60000,70000,80000,90000,100000,200000,300000,400000,500000,600000,700000,800000,900000,1000000,2000000],
              "tickSize": {"condition": {"test": "datum.value == 10000 || datum.value == 100000 || datum.value == 1000000", "value": -7}, "value": -4}}},
            "y": {"field": "rho", "type": "quantitative", "axis": null},
            "text": {"field": "t"}
          }
        }
      ]
    },
    {
      "width": 173, "height": 295,
      "resolve": {"axis": {"x": "independent", "y": "independent"}},
      "layer": [
        {
          "data": {"name": "phiB"},
          "mark": {"type": "line", "interpolate": "monotone", "strokeWidth": 0.8, "color": "black"},
          "encoding": {
            "x": {"field": "T", "type": "quantitative", "scale": {"domain": [0.0479, 0.23], "nice": false, "zero": false},
              "axis": {"values": [0.05,0.06,0.07,0.08,0.09,0.1,0.11,0.12,0.13,0.14,0.15,0.16,0.17,0.18,0.19,0.2,0.21,0.22],
                "labelExpr": "abs(datum.value - 0.1) < 0.0001 ? '0.1' : abs(datum.value - 0.2) < 0.0001 ? '0.2' : ''",
                "tickSize": {"condition": {"test": "abs(datum.value - 0.1) < 0.0001 || abs(datum.value - 0.2) < 0.0001", "value": -7}, "value": -4},
                "labelFontSize": 17, "title": "T(K)", "titleFontSize": 23, "titleX": 92, "titleY": 38, "titleBaseline": "alphabetic", "labelPadding": 15}},
            "y": {"field": "phi", "type": "quantitative", "scale": {"domain": [0, 100], "nice": false},
              "axis": {"values": [0,10,20,30,40,50,60,70,80,90,100],
                "labelExpr": "datum.value == 0 ? '0' : datum.value == 100 ? '100' : ''",
                "labelFontSize": 17, "title": "φ(deg)", "titleFontSize": 25, "titleX": -37, "titleY": 175, "titleAngle": 270, "titleBaseline": "alphabetic", "labelPadding": 19}},
            "detail": {"field": "fr", "type": "nominal"}
          }
        },
        {
          "data": {"name": "phiB"},
          "mark": {"type": "point", "filled": true, "stroke": "black", "strokeWidth": 0.8, "size": 18, "opacity": 1},
          "encoding": {
            "x": {"field": "T", "type": "quantitative", "axis": null},
            "y": {"field": "phi", "type": "quantitative", "axis": null},
            "shape": {"field": "fr", "type": "nominal", "legend": null, "scale": {"domain": ["75k","99.8k","146k","214k","313k","459k","611k","983k","1.4M","2.1M","3.0M"], "range": ["circle","circle","square","square","diamond","triangle-up","triangle-up","diamond","triangle-down","triangle-down","M-1,-1L1,1M-1,1L1,-1"]}},
            "fill": {"field": "fr", "type": "nominal", "legend": null, "scale": {"domain": ["75k","99.8k","146k","214k","313k","459k","611k","983k","1.4M","2.1M","3.0M"], "range": ["white","black","white","black","white","black","white","black","white","black","black"]}}
          }
        },
        {
          "data": {"values": [{"T": 0.0965}]},
          "mark": {"type": "rule", "strokeDash": [6, 4], "strokeWidth": 1.5, "color": "black"},
          "encoding": {"x": {"field": "T", "type": "quantitative", "axis": null}}
        },
        {
          "data": {"values": [{"phi": 80}]},
          "mark": {"type": "rule", "strokeDash": [6, 4], "strokeWidth": 1.5, "color": "black"},
          "encoding": {"y": {"field": "phi", "type": "quantitative", "axis": null}}
        },
        {
          "data": {"values": [{"T": 0.0805, "phi": 94.2, "t": "(b)"}]},
          "mark": {"type": "text", "fontSize": 18, "align": "center", "baseline": "middle"},
          "encoding": {"x": {"field": "T", "type": "quantitative", "axis": null}, "y": {"field": "phi", "type": "quantitative", "axis": null}, "text": {"field": "t"}}
        },
        {
          "data": {"values": [{"T": 0.1874, "phi": 92.6, "t": "5.300T"}]},
          "mark": {"type": "text", "fontSize": 23, "align": "center", "baseline": "middle"},
          "encoding": {
            "x": {"field": "T", "type": "quantitative", "axis": {"orient": "top", "labels": false, "title": null, "values": [0.05,0.06,0.07,0.08,0.09,0.1,0.11,0.12,0.13,0.14,0.15,0.16,0.17,0.18,0.19,0.2,0.21,0.22],
              "tickSize": {"condition": {"test": "abs(datum.value - 0.1) < 0.0001 || abs(datum.value - 0.2) < 0.0001", "value": -7}, "value": -4}}},
            "y": {"field": "phi", "type": "quantitative", "axis": {"orient": "right", "labels": false, "title": null, "values": [0,10,20,30,40,50,60,70,80,90,100]}},
            "text": {"field": "t"}
          }
        },
        {
          "data": {"values": [
            {"T": 0.1532, "phi": 72.9, "t": "φ"},
            {"T": 0.1705, "phi": 72.9, "t": "=79.3°"},
            {"T": 0.1500, "phi": 63.7, "t": "T"},
            {"T": 0.1664, "phi": 63.7, "t": "=0.093K"},
            {"T": 0.1532, "phi": 55.4, "t": "z=8.4±0.3"}
          ]},
          "mark": {"type": "text", "fontSize": 16, "align": "left", "baseline": "middle"},
          "encoding": {"x": {"field": "T", "type": "quantitative", "axis": null}, "y": {"field": "phi", "type": "quantitative", "axis": null}, "text": {"field": "t"}}
        },
        {
          "data": {"values": [
            {"T": 0.1636, "phi": 71.4, "t": "g"},
            {"T": 0.1603, "phi": 62.2, "t": "g"}
          ]},
          "mark": {"type": "text", "fontSize": 11, "align": "left", "baseline": "middle"},
          "encoding": {"x": {"field": "T", "type": "quantitative", "axis": null}, "y": {"field": "phi", "type": "quantitative", "axis": null}, "text": {"field": "t"}}
        },
        {
          "data": {"values": [
            {"T": 0.1974, "phi": 36.0, "t": "3.0MHz"},
            {"T": 0.1221, "phi": 6.7, "t": "75kHz"}
          ]},
          "mark": {"type": "text", "fontSize": 15, "align": "center", "baseline": "middle"},
          "encoding": {"x": {"field": "T", "type": "quantitative", "axis": null}, "y": {"field": "phi", "type": "quantitative", "axis": null}, "text": {"field": "t"}}
        }
      ]
    },
    {
      "width": 168, "height": 295,
      "resolve": {"axis": {"x": "independent", "y": "independent"}},
      "layer": [
        {
          "data": {"name": "phiD"},
          "mark": {"type": "line", "interpolate": "monotone", "strokeWidth": 0.8, "color": "black"},
          "encoding": {
            "x": {"field": "T", "type": "quantitative", "scale": {"domain": [0.0465, 0.2204], "nice": false, "zero": false},
              "axis": {"values": [0.05,0.06,0.07,0.08,0.09,0.1,0.11,0.12,0.13,0.14,0.15,0.16,0.17,0.18,0.19,0.2,0.21,0.22],
                "labelExpr": "abs(datum.value - 0.1) < 0.0001 ? '0.1' : abs(datum.value - 0.2) < 0.0001 ? '0.2' : ''",
                "tickSize": {"condition": {"test": "abs(datum.value - 0.1) < 0.0001 || abs(datum.value - 0.2) < 0.0001", "value": -7}, "value": -4},
                "labelFontSize": 17, "title": "T(K)", "titleFontSize": 23, "titleX": 91, "titleY": 35, "titleBaseline": "alphabetic", "labelPadding": 11}},
            "y": {"field": "phi", "type": "quantitative", "scale": {"domain": [0, 100], "nice": false},
              "axis": {"values": [0,10,20,30,40,50,60,70,80,90,100], "labels": false, "title": null}},
            "detail": {"field": "fr", "type": "nominal"}
          }
        },
        {
          "data": {"name": "phiD"},
          "mark": {"type": "point", "filled": true, "stroke": "black", "strokeWidth": 0.8, "size": 18, "opacity": 1},
          "encoding": {
            "x": {"field": "T", "type": "quantitative", "axis": null},
            "y": {"field": "phi", "type": "quantitative", "axis": null},
            "shape": {"field": "fr", "type": "nominal", "legend": null, "scale": {"domain": ["75k","99.8k","146k","214k","313k","459k","611k","983k","1.4M","2.1M","3.0M"], "range": ["circle","circle","square","square","diamond","triangle-up","triangle-up","diamond","triangle-down","triangle-down","M-1,-1L1,1M-1,1L1,-1"]}},
            "fill": {"field": "fr", "type": "nominal", "legend": null, "scale": {"domain": ["75k","99.8k","146k","214k","313k","459k","611k","983k","1.4M","2.1M","3.0M"], "range": ["white","black","white","black","white","black","white","black","white","black","black"]}}
          }
        },
        {
          "data": {"values": [{"T": 0.0713, "phi": 94.3, "t": "(d)"}]},
          "mark": {"type": "text", "fontSize": 18, "align": "center", "baseline": "middle"},
          "encoding": {"x": {"field": "T", "type": "quantitative", "axis": null}, "y": {"field": "phi", "type": "quantitative", "axis": null}, "text": {"field": "t"}}
        },
        {
          "data": {"values": [{"T": 0.1733, "phi": 92.6, "t": "5.302T"}]},
          "mark": {"type": "text", "fontSize": 23, "align": "center", "baseline": "middle"},
          "encoding": {
            "x": {"field": "T", "type": "quantitative", "axis": {"orient": "top", "labels": false, "title": null, "values": [0.05,0.06,0.07,0.08,0.09,0.1,0.11,0.12,0.13,0.14,0.15,0.16,0.17,0.18,0.19,0.2,0.21,0.22],
              "tickSize": {"condition": {"test": "abs(datum.value - 0.1) < 0.0001 || abs(datum.value - 0.2) < 0.0001", "value": -7}, "value": -4}}},
            "y": {"field": "phi", "type": "quantitative", "axis": null},
            "text": {"field": "t"}
          }
        },
        {
          "data": {"values": [
            {"T": 0.0646, "phi": 58.6, "t": "f(Hz)"},
            {"T": 0.1893, "phi": 44.5, "t": "3.0MHz"},
            {"T": 0.0972, "phi": 10.2, "t": "75kHz"}
          ]},
          "mark": {"type": "text", "fontSize": 14.5, "align": "center", "baseline": "middle"},
          "encoding": {"x": {"field": "T", "type": "quantitative", "axis": null}, "y": {"field": "phi", "type": "quantitative", "axis": null}, "text": {"field": "t"}}
        },
        {
          "data": {"values": [{"T": 0.0703, "phi": 55.6, "t": "75k\n99.8k\n146k\n214k\n313k\n459k\n611k\n983k\n1.4M\n2.1M\n3.0M"}]},
          "mark": {"type": "text", "fontSize": 14, "align": "center", "baseline": "top", "lineBreak": "\n", "lineHeight": 10.7},
          "encoding": {"x": {"field": "T", "type": "quantitative", "axis": null}, "y": {"field": "phi", "type": "quantitative", "axis": null}, "text": {"field": "t"}}
        }
      ]
    }
  ]
}
